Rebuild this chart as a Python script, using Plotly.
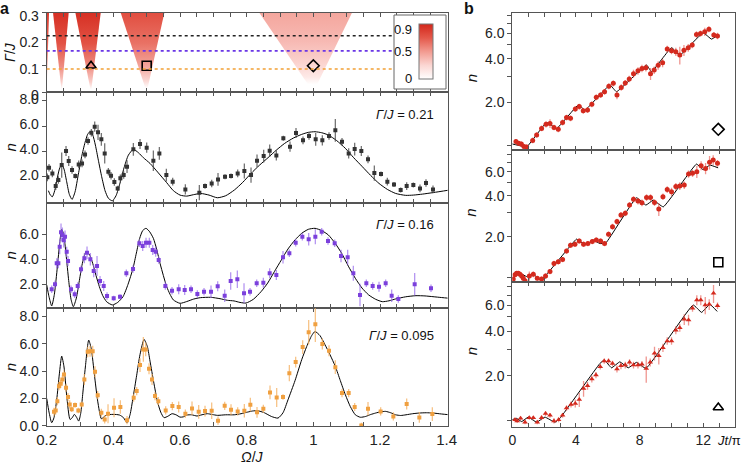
import plotly.graph_objects as go
from plotly.colors import sample_colorscale

# ======================= DATA =======================
# ---- panel a, top: resonance cones in the (Omega/J, Gamma/J) plane ----
cone_apex = [0.200, 0.245, 0.333, 0.500, 1.000]
cone_left = [0.190, 0.219, 0.286, 0.422, 0.838]
cone_right = [0.207, 0.266, 0.362, 0.553, 1.116]
cone_peak = [0.90, 0.95, 0.95, 0.80, 0.45]
cone_onset = [0.05, 0.01, 0.01, 0.015, 0.03]
gamma_lines = [0.213, 0.156, 0.088]
gamma_labels = ['0.21', '0.16', '0.095']
marker_omega = [0.333, 0.5, 1.0]
marker_gamma = [0.1, 0.1, 0.1]
marker_symbols = ['triangle-up-open', 'square-open', 'diamond-open']
cbar_ticks = [0.9, 0.5, 0.0]
cbar_ticktext = ['0.9', '0.5', '0']

# ---- panel a, Gamma/J = 0.21 ----
om2 = [0.202, 0.207, 0.217, 0.227, 0.235, 0.245, 0.258, 0.266, 0.276, 0.286, 0.296, 0.306, 0.315, 0.324,
       0.334, 0.344, 0.354, 0.364, 0.374, 0.385, 0.393, 0.403, 0.413, 0.421, 0.431, 0.441, 0.460, 0.480,
       0.500, 0.520, 0.538, 0.559, 0.578, 0.616, 0.658, 0.675, 0.695, 0.714, 0.735, 0.753, 0.773, 0.793,
       0.813, 0.831, 0.851, 0.869, 0.889, 0.910, 0.930, 0.948, 0.969, 0.987, 1.007, 1.027, 1.047, 1.066,
       1.086, 1.106, 1.124, 1.144, 1.164, 1.183, 1.203, 1.222, 1.242, 1.262, 1.280, 1.300, 1.320, 1.338, 1.359]
n2 = [1.95, 2.71, 2.26, 1.26, 1.74, 2.92, 4.03, 3.24, 2.53, 2.05, 2.97, 3.05, 3.76, 4.82, 5.47, 5.95, 5.5,
      4.95, 3.84, 2.39, 2.08, 1.58, 1.08, 1.87, 2.13, 2.79, 4.16, 4.58, 4.29, 3.26, 3.84, 2.13, 1.61, 1.0,
      0.74, 1.26, 1.47, 1.79, 2.0, 2.05, 2.26, 2.45, 2.13, 3.26, 3.63, 4.05, 3.68, 5.03, 4.37, 5.45, 4.87,
      5.21, 4.95, 4.87, 5.21, 5.66, 4.76, 3.84, 4.18, 4.03, 3.37, 2.29, 2.21, 1.61, 1.39, 0.95, 1.26, 1.34,
      1.08, 1.5, 1.0]
e2 = [0.3, 0.3, 0.3, 0.3, 0.3, 1.0, 0.4, 0.4, 0.3, 0.2, 0.3, 0.3, 0.3, 0.3, 0.3, 0.4, 0.6, 0.5, 0.8, 0.3,
      0.3, 0.3, 0.2, 0.3, 0.3, 0.5, 0.5, 0.4, 0.4, 0.8, 0.5, 0.5, 0.3, 0.4, 0.6, 0.2, 0.3, 0.5, 0.2, 0.2,
      0.3, 0.6, 0.6, 0.5, 0.5, 0.5, 0.4, 0.2, 0.4, 0.4, 0.3, 0.3, 0.5, 0.4, 0.3, 0.9, 0.3, 0.4, 0.5, 0.4,
      0.3, 0.6, 0.2, 0.3, 0.2, 0.2, 0.3, 0.2, 0.3, 0.3, 0.3]
th2_om = [0.205, 0.211, 0.217, 0.224, 0.231, 0.238, 0.245, 0.252, 0.260, 0.268, 0.276, 0.285, 0.295, 0.305,
          0.315, 0.323, 0.330, 0.338, 0.346, 0.355, 0.365, 0.375, 0.385, 0.397, 0.408, 0.420, 0.432, 0.445,
          0.460, 0.475, 0.49, 0.51, 0.535, 0.56, 0.58, 0.60, 0.62, 0.64, 0.662, 0.687, 0.712, 0.737, 0.763,
          0.788, 0.813, 0.838, 0.864, 0.889, 0.914, 0.940, 0.965, 0.985, 1.005, 1.025, 1.045, 1.070, 1.096,
          1.121, 1.147, 1.172, 1.197, 1.222, 1.247, 1.277, 1.300, 1.328, 1.36, 1.409]
th2_n = [0.9, 0.55, 0.42, 0.9, 1.8, 2.6, 2.97, 2.6, 1.6, 0.6, 0.21, 0.8, 2.2, 3.6, 4.7, 5.35, 5.55, 5.3, 4.5,
         3.3, 2.0, 0.9, 0.3, 0.1, 0.5, 1.5, 2.7, 3.7, 4.16, 3.9, 3.5, 3.05, 2.3, 1.53, 0.9, 0.55, 0.47, 0.58,
         0.68, 0.55, 0.34, 0.5, 0.95, 1.55, 2.26, 2.9, 3.5, 4.1, 4.63, 5.05, 5.34, 5.5, 5.55, 5.47, 5.29, 4.85,
         4.24, 3.5, 2.79, 2.1, 1.47, 1.0, 0.68, 0.53, 0.55, 0.63, 0.75, 0.95]

# ---- panel a, Gamma/J = 0.16 ----
om3 = [0.215, 0.225, 0.230, 0.235, 0.239, 0.243, 0.247, 0.251, 0.255, 0.260, 0.264, 0.273, 0.284, 0.293,
       0.303, 0.313, 0.321, 0.331, 0.341, 0.351, 0.360, 0.371, 0.381, 0.401, 0.420, 0.439, 0.459, 0.478,
       0.488, 0.498, 0.508, 0.518, 0.527, 0.536, 0.556, 0.576, 0.596, 0.614, 0.633, 0.652, 0.672, 0.693,
       0.713, 0.734, 0.752, 0.772, 0.792, 0.810, 0.830, 0.850, 0.869, 0.889, 0.909, 0.928, 0.947, 0.967,
       0.986, 1.006, 1.025, 1.044, 1.064, 1.083, 1.103, 1.120, 1.140, 1.159, 1.178, 1.197, 1.217, 1.235,
       1.255, 1.304, 1.353]
n3 = [1.6, 2.0, 3.68, 3.68, 5.01, 6.16, 5.95, 5.55, 5.81, 4.61, 3.87, 1.6, 1.2, 1.87, 3.2, 4.08, 4.53, 4.0,
      3.07, 3.47, 2.27, 1.87, 1.07, 0.88, 1.01, 2.88, 3.23, 5.28, 5.07, 5.33, 5.33, 4.75, 4.61, 3.95, 1.87,
      1.49, 1.6, 1.55, 1.6, 1.23, 1.41, 1.41, 1.84, 1.09, 2.27, 2.4, 1.28, 1.41, 2.08, 2.13, 2.88, 2.75,
      4.16, 4.48, 5.33, 5.81, 5.6, 5.81, 6.21, 5.47, 5.28, 4.27, 4.16, 2.88, 1.15, 2.08, 1.87, 1.81, 2.08,
      1.09, 0.83, 2.0, 1.68]
e3 = [0.3, 0.3, 0.4, 0.4, 0.6, 0.7, 0.6, 0.6, 0.5, 0.4, 0.4, 0.3, 0.3, 0.3, 0.3, 0.4, 0.5, 0.5, 0.5, 0.8,
      0.4, 0.4, 0.3, 0.2, 0.2, 0.3, 0.3, 0.3, 0.4, 0.4, 0.4, 0.4, 0.4, 0.3, 0.3, 0.3, 0.4, 0.4, 0.3, 0.3,
      0.3, 0.5, 0.4, 0.5, 0.7, 0.7, 0.8, 0.3, 0.3, 0.4, 0.4, 0.4, 0.5, 0.3, 0.3, 0.3, 0.5, 0.6, 0.3, 0.3,
      0.3, 0.5, 0.6, 0.6, 0.9, 0.3, 0.3, 0.4, 0.3, 0.5, 0.3, 0.9, 0.3]
th3_om = [0.2, 0.207, 0.215, 0.223, 0.232, 0.239, 0.245, 0.251, 0.258, 0.266, 0.273, 0.280, 0.289, 0.298,
          0.308, 0.318, 0.328, 0.338, 0.348, 0.358, 0.368, 0.380, 0.397, 0.413, 0.429, 0.444, 0.459, 0.469,
          0.479, 0.488, 0.498, 0.509, 0.52, 0.53, 0.54, 0.55, 0.56, 0.57, 0.58, 0.6, 0.62, 0.641, 0.661,
          0.692, 0.72, 0.742, 0.762, 0.78, 0.798, 0.82, 0.843, 0.863, 0.883, 0.904, 0.924, 0.945, 0.965,
          0.985, 1.005, 1.025, 1.045, 1.065, 1.085, 1.105, 1.126, 1.146, 1.166, 1.187, 1.207, 1.227, 1.247,
          1.277, 1.308, 1.335, 1.359, 1.385, 1.409]
th3_n = [1.95, 1.0, 0.27, 1.2, 3.41, 5.3, 6.4, 6.0, 4.4, 2.3, 0.8, 0.21, 0.9, 2.3, 3.8, 4.61, 4.4, 3.68, 2.7,
         1.81, 1.1, 0.6, 0.35, 0.55, 1.01, 2.0, 3.28, 4.5, 5.68, 6.3, 6.48, 6.2, 5.68, 4.8, 3.68, 2.7, 1.81,
         1.2, 0.75, 0.48, 0.62, 0.82, 0.93, 0.96, 0.85, 0.72, 0.67, 0.55, 0.5, 0.8, 1.41, 2.1, 3.01, 3.95,
         4.83, 5.55, 6.08, 6.4, 6.48, 6.3, 5.95, 5.3, 4.48, 3.45, 2.48, 1.7, 1.15, 0.8, 0.61, 0.68, 0.83,
         1.0, 1.09, 1.07, 1.01, 0.94, 0.88]

# ---- panel a, Gamma/J = 0.095 ----
om4 = [0.222, 0.227, 0.232, 0.237, 0.242, 0.247, 0.252, 0.258, 0.264, 0.269, 0.275, 0.285, 0.295, 0.305,
       0.313, 0.323, 0.330, 0.338, 0.345, 0.353, 0.364, 0.374, 0.384, 0.402, 0.421, 0.441, 0.461, 0.470,
       0.480, 0.490, 0.497, 0.507, 0.516, 0.525, 0.535, 0.557, 0.577, 0.596, 0.616, 0.636, 0.656, 0.675,
       0.695, 0.714, 0.734, 0.753, 0.773, 0.793, 0.811, 0.831, 0.850, 0.870, 0.890, 0.909, 0.928, 0.947,
       0.968, 0.986, 1.006, 1.027, 1.047, 1.066, 1.086, 1.106, 1.124, 1.144, 1.164, 1.202, 1.240, 1.280,
       1.318, 1.357]
n4 = [1.02, 1.12, 1.8, 2.9, 3.07, 3.39, 3.76, 2.78, 2.1, 1.56, 1.2, 1.51, 1.12, 1.56, 3.39, 5.41, 5.46, 5.46,
      3.95, 2.24, 0.95, 0.46, 0.88, 1.32, 1.37, 0.41, 2.05, 2.54, 4.44, 5.59, 5.59, 4.17, 3.39, 2.17, 1.8,
      1.12, 1.44, 1.37, 0.88, 1.27, 1.02, 1.07, 1.1, 0.37, 1.46, 1.17, 1.05, 1.1, 1.54, 0.98, 1.24, 2.44,
      2.07, 2.1, 3.85, 4.66, 5.76, 6.85, 7.44, 5.98, 5.49, 4.29, 2.39, 2.39, 1.37, 0.02, 1.24, 1.05, 0.68,
      1.59, 0.61, 0.85]
e4 = [0.3, 0.3, 0.3, 0.3, 0.3, 0.3, 0.3, 0.3, 0.3, 0.3, 0.2, 0.2, 0.2, 0.2, 0.4, 0.4, 0.4, 0.4, 0.4, 0.3,
      0.3, 0.3, 0.7, 0.7, 0.5, 0.3, 0.3, 0.3, 0.5, 0.9, 0.5, 0.4, 0.4, 0.3, 0.3, 0.3, 0.3, 0.4, 0.3, 0.5,
      0.5, 0.4, 0.6, 0.3, 0.3, 0.4, 0.3, 0.5, 0.5, 0.4, 0.3, 0.5, 0.7, 0.2, 0.6, 0.4, 0.5, 0.9, 1.3, 0.4,
      0.4, 0.5, 0.3, 0.3, 0.3, 0.2, 0.5, 0.3, 0.3, 0.4, 0.4, 0.5]
th4_om = [0.2, 0.207, 0.215, 0.222, 0.23, 0.238, 0.245, 0.252, 0.26, 0.27, 0.277, 0.283, 0.29, 0.296, 0.302,
          0.308, 0.316, 0.326, 0.334, 0.343, 0.353, 0.364, 0.372, 0.379, 0.389, 0.399, 0.409, 0.419, 0.43,
          0.441, 0.45, 0.459, 0.47, 0.48, 0.492, 0.502, 0.51, 0.521, 0.532, 0.542, 0.552, 0.564, 0.576,
          0.588, 0.6, 0.61, 0.62, 0.635, 0.651, 0.662, 0.682, 0.697, 0.712, 0.737, 0.763, 0.783, 0.803,
          0.818, 0.833, 0.853, 0.874, 0.894, 0.909, 0.924, 0.945, 0.965, 0.98, 0.995, 1.005, 1.02, 1.035,
          1.05, 1.066, 1.081, 1.096, 1.111, 1.126, 1.141, 1.157, 1.172, 1.187, 1.202, 1.217, 1.232, 1.247,
          1.262, 1.278, 1.298, 1.318, 1.339, 1.359, 1.384, 1.409]
th4_n = [2.0, 1.0, 0.22, 0.6, 1.9, 3.8, 5.1, 4.3, 2.2, 0.46, 0.6, 0.83, 0.6, 0.34, 0.9, 2.29, 4.3, 6.27, 5.6,
         3.76, 1.8, 0.51, 0.65, 0.78, 0.82, 0.83, 0.82, 0.78, 0.6, 0.22, 0.8, 2.05, 3.7, 5.22, 6.32, 5.8,
         4.73, 3.2, 1.8, 1.0, 0.59, 0.7, 0.88, 0.8, 0.63, 0.65, 0.78, 0.8, 0.71, 0.78, 0.88, 0.82, 0.76, 0.8,
         0.8, 0.88, 1.0, 1.08, 1.1, 0.95, 0.68, 0.56, 0.95, 1.9, 3.3, 4.83, 5.8, 6.6, 6.9, 6.6, 5.93, 5.2,
         4.34, 3.3, 2.27, 1.4, 0.8, 0.62, 0.68, 0.82, 0.93, 1.02, 1.05, 0.95, 0.8, 0.75, 0.8, 0.88, 0.93,
         0.95, 0.93, 0.86, 0.8]

# ---- panel b (Jt/pi vs n, log scale) ----
tb1 = [0.23, 0.4, 0.57, 0.73, 0.9, 1.28, 1.53, 1.84, 2.12, 2.37, 2.62, 2.89, 3.16, 3.41, 3.66, 3.96, 4.21,
       4.46, 4.73, 5.0, 5.28, 5.55, 5.8, 6.07, 6.35, 6.58, 6.85, 7.1, 7.35, 7.62, 7.9, 8.15, 8.4, 8.69, 8.92,
       9.17, 9.45, 9.74, 10.01, 10.28, 10.53, 10.79, 11.06, 11.31, 11.58, 11.83, 12.1, 12.36, 12.67, 12.9]
nb1 = [1.07, 1.04, 1.03, 0.99, 0.98, 1.09, 1.19, 1.32, 1.41, 1.43, 1.34, 1.30, 1.45, 1.57, 1.55, 1.80, 1.87,
       1.75, 1.77, 1.94, 2.17, 2.25, 2.37, 2.59, 2.71, 2.25, 2.54, 2.73, 2.91, 3.16, 3.31, 3.44, 3.47, 3.16,
       3.35, 3.61, 3.76, 4.69, 4.56, 4.49, 4.26, 4.60, 4.78, 4.99, 5.92, 6.01, 6.18, 6.43, 5.86, 5.78]
eb1 = [0.04, 0.04, 0.04, 0.04, 0.04, 0.05, 0.05, 0.06, 0.07, 0.1, 0.06, 0.06, 0.07, 0.07, 0.07, 0.08, 0.09,
       0.08, 0.08, 0.09, 0.1, 0.1, 0.11, 0.12, 0.13, 0.15, 0.13, 0.13, 0.15, 0.2, 0.2, 0.2, 0.2, 0.3, 0.2,
       0.25, 0.25, 0.25, 0.25, 0.3, 0.6, 0.4, 0.3, 0.25, 0.3, 0.3, 0.4, 0.3, 0.3, 0.3]
tb2 = [0.06, 0.17, 0.27, 0.38, 0.48, 0.59, 0.69, 0.8, 1.07, 1.32, 1.57, 1.84, 2.09, 2.37, 2.62, 2.89, 3.16,
       3.41, 3.66, 3.94, 4.21, 4.48, 4.75, 5.03, 5.28, 5.55, 5.8, 6.05, 6.3, 6.58, 6.83, 7.1, 7.37, 7.62, 7.9,
       8.15, 8.44, 8.69, 8.94, 9.21, 9.47, 9.74, 10.01, 10.28, 10.53, 10.81, 11.08, 11.33, 11.6, 11.87, 12.15,
       12.4, 12.63, 12.9]
nb2 = [0.98, 1.05, 1.08, 1.08, 1.06, 1.03, 0.99, 0.95, 1.03, 1.06, 0.99, 0.98, 1.03, 1.11, 1.27, 1.31, 1.36,
       1.57, 1.73, 1.76, 1.86, 1.76, 1.78, 1.84, 1.89, 1.86, 1.78, 2.08, 2.37, 2.58, 2.88, 2.97, 3.41, 3.76,
       3.65, 3.55, 3.87, 3.88, 3.56, 3.19, 3.93, 4.44, 4.27, 4.66, 4.71, 4.78, 5.76, 5.83, 6.0, 6.64, 6.34,
       7.03, 7.3, 6.92]
eb2 = [0.03, 0.03, 0.03, 0.03, 0.03, 0.03, 0.03, 0.03, 0.08, 0.05, 0.04, 0.04, 0.05, 0.05, 0.06, 0.06, 0.06,
       0.07, 0.08, 0.08, 0.08, 0.08, 0.08, 0.08, 0.08, 0.08, 0.08, 0.1, 0.12, 0.13, 0.15, 0.15, 0.18, 0.2,
       0.2, 0.2, 0.22, 0.22, 0.2, 0.35, 0.22, 0.25, 0.3, 0.3, 0.3, 0.3, 0.35, 0.35, 0.6, 0.5, 0.6, 0.8, 0.6,
       0.4]
tb3 = [0.17, 0.31, 0.52, 0.8, 1.07, 1.32, 1.57, 1.84, 2.09, 2.37, 2.62, 2.91, 3.16, 3.41, 3.69, 3.96, 4.21,
       4.48, 4.73, 5.0, 5.26, 5.53, 5.78, 6.05, 6.3, 6.58, 6.83, 7.1, 7.37, 7.62, 7.9, 8.15, 8.42, 8.67, 8.94,
       9.21, 9.47, 9.74, 10.01, 10.28, 10.53, 10.81, 11.08, 11.33, 11.6, 11.85, 12.13, 12.38, 12.65, 12.9]
nb3 = [1.01, 0.99, 1.03, 0.97, 1.04, 1.04, 0.97, 1.04, 1.11, 1.08, 0.99, 1.01, 1.08, 1.21, 1.28, 1.30, 1.38,
       1.64, 1.71, 1.90, 2.02, 2.30, 2.51, 2.51, 2.42, 2.22, 2.33, 2.36, 2.46, 2.36, 2.36, 2.39, 2.24, 2.46,
       2.83, 2.73, 3.09, 3.43, 3.43, 4.06, 4.21, 4.8, 4.76, 5.7, 6.48, 6.48, 6.0, 6.06, 7.2, 5.94]
eb3 = [0.03, 0.03, 0.03, 0.03, 0.03, 0.03, 0.03, 0.04, 0.04, 0.04, 0.04, 0.04, 0.04, 0.05, 0.06, 0.08, 0.15,
       0.2, 0.1, 0.1, 0.1, 0.1, 0.1, 0.1, 0.1, 0.12, 0.12, 0.12, 0.12, 0.12, 0.12, 0.12, 0.45, 0.15, 0.3,
       0.35, 0.2, 0.2, 0.2, 0.25, 0.25, 0.4, 0.4, 0.3, 0.5, 0.5, 0.8, 0.5, 1.0, 0.3]
thb1_t = [0, 0.5, 0.9, 2.16, 2.79, 4.15, 4.57, 6.14, 6.55, 8.44, 8.75, 10.01, 10.53, 12.0, 12.52, 12.94]
thb1_n = [1.03, 1.0, 0.98, 1.45, 1.32, 1.92, 1.77, 2.64, 2.37, 3.63, 3.26, 4.79, 4.25, 6.08, 5.49, 5.86]
thb2_t = [0, 0.48, 0.9, 1.32, 1.8, 4.04, 4.25, 4.67, 5.09, 5.51, 5.88, 7.81, 8.4, 8.86, 9.49, 11.58, 12.0,
          12.42, 12.94]
thb2_n = [0.99, 1.08, 1.02, 1.06, 0.96, 1.92, 1.84, 1.76, 1.89, 1.78, 1.8, 3.86, 3.41, 3.71, 3.31, 6.82, 6.2,
          6.7, 6.4]
thb3_t = [0, 0.27, 0.59, 1.0, 1.53, 2.05, 2.68, 2.99, 5.51, 5.78, 6.24, 6.76, 7.29, 7.81, 8.4, 11.37, 11.9,
          12.42, 12.88]
thb3_n = [1.01, 1.03, 0.98, 1.05, 0.97, 1.05, 0.97, 1.03, 2.42, 2.55, 2.26, 2.48, 2.26, 2.46, 2.24, 6.0, 5.35,
          6.06, 5.43]
b_symbol_t = [12.95, 12.95, 12.95]
b_symbol_n = [1.30, 1.30, 1.22]
b_symbols = ['diamond-open', 'square-open', 'triangle-up-open']

# ======================= STYLE / LAYOUT =======================
W, H = 741, 467
FONT = 'Liberation Sans, Arial, sans-serif'
AXC = '#555555'
HEAT_SCALE = [[0.0, '#ffffff'], [0.25, '#fbd6d2'], [0.5, '#f29a90'], [0.75, '#e4584a'], [1.0, '#d3261a']]
LINE_COLORS = ['#222222', '#6a36e6', '#f2a035']
PT_COLORS = ['#333333', '#7b40dc', '#f0a040']
ERR_COLORS = ['rgba(70,70,70,0.75)', 'rgba(150,105,235,0.7)', 'rgba(244,175,95,0.75)']
RED = '#d42a1e'
RED_ERR = 'rgba(228,80,70,0.6)'
# gradient profile along Gamma inside a cone: (position above onset, fraction of peak intensity)
GRAD_POS = [0.0, 0.1, 0.3, 0.6, 1.0]
GRAD_FRAC = [0.0, 0.3, 0.58, 0.82, 1.0]


def px2x(p):
    return p / W


def px2y(p):
    return 1 - p / H


# panel geometry (pixels)
A_X = (46.7, 447.5)
A_ROWS = [(12.7, 92.3), (92.3, 202.7), (202.7, 308.3), (308.3, 426.0)]
B_X = (512.3, 735.0)
B_ROWS = [(12.7, 150.0), (150.0, 281.7), (281.7, 426.7)]

fig = go.Figure()

# ---- resonance cones ----
for c, l, r, pk, on in zip(cone_apex, cone_left, cone_right, cone_peak, cone_onset):
    cols = sample_colorscale(HEAT_SCALE, [pk * f for f in GRAD_FRAC])
    o = on / 0.3
    grad = [[0.0, '#ffffff']] + [[o + (1 - o) * p, col] for p, col in zip(GRAD_POS, cols)]
    fig.add_trace(go.Scatter(x=[l, c, r, l], y=[0.3, 0.0, 0.3, 0.3], mode='lines', fill='toself',
                             line=dict(width=0), fillgradient=dict(type='vertical', colorscale=grad,
                                                                   start=0.0, stop=0.3),
                             xaxis='x', yaxis='y', hoverinfo='skip', showlegend=False))

# dashed horizontal lines
for g, col in zip(gamma_lines, LINE_COLORS):
    fig.add_shape(type='line', xref='x domain', yref='y', x0=0, x1=1, y0=g, y1=g,
                  line=dict(color=col, width=1.6, dash='3px,3px'))

fig.add_trace(go.Scatter(x=marker_omega, y=marker_gamma, mode='markers', xaxis='x', yaxis='y',
                         marker=dict(symbol=marker_symbols, size=9, color='black', line=dict(width=1.6)),
                         showlegend=False, hoverinfo='skip'))

# colour bar (inset)
CB_X0, CB_THICK, CB_TOP, CB_BOT = 419, 14, 24, 79
fig.add_trace(go.Scatter(x=[None], y=[None], mode='markers', xaxis='x', yaxis='y', showlegend=False,
                         marker=dict(color=[0], colorscale=HEAT_SCALE, cmin=0, cmax=1, showscale=True,
                                     colorbar=dict(x=px2x(CB_X0), xanchor='left', xpad=0, ypad=0,
                                                   y=px2y((CB_TOP + CB_BOT) / 2), yanchor='middle',
                                                   lenmode='pixels', len=CB_BOT - CB_TOP,
                                                   thickness=CB_THICK, outlinewidth=1, outlinecolor='#777',
                                                   showticklabels=False, ticks=''))))
fig.add_shape(type='rect', xref='paper', yref='paper', x0=px2x(394), x1=px2x(446), y0=px2y(89), y1=px2y(15),
              line=dict(color='#666', width=1), fillcolor='white', layer='above')

# ---- panel a data ----
series_a = [(om2, n2, e2, th2_om, th2_n), (om3, n3, e3, th3_om, th3_n), (om4, n4, e4, th4_om, th4_n)]
for i, (om, nn, ee, tom, tn) in enumerate(series_a):
    ax = str(i + 2)
    fig.add_trace(go.Scatter(x=tom, y=tn, mode='lines', line=dict(color='black', width=1, shape='spline',
                                                                  smoothing=0.6),
                             xaxis='x' + ax, yaxis='y' + ax, showlegend=False, hoverinfo='skip'))
    fig.add_trace(go.Scatter(x=om, y=nn, mode='markers', xaxis='x' + ax, yaxis='y' + ax, showlegend=False,
                             marker=dict(symbol='square', size=4, color=PT_COLORS[i]),
                             error_y=dict(type='data', array=ee, color=ERR_COLORS[i], thickness=1.3, width=0)))

# ---- panel b data ----
series_b = [(tb1, nb1, eb1, thb1_t, thb1_n, 'circle'), (tb2, nb2, eb2, thb2_t, thb2_n, 'circle'),
            (tb3, nb3, eb3, thb3_t, thb3_n, 'triangle-up')]
for i, (tt, nn, ee, ttt, ttn, sym) in enumerate(series_b):
    ax = str(i + 5)
    fig.add_trace(go.Scatter(x=ttt, y=ttn, mode='lines', line=dict(color='black', width=1, shape='spline',
                                                                   smoothing=0.3),
                             xaxis='x' + ax, yaxis='y' + ax, showlegend=False, hoverinfo='skip'))
    fig.add_trace(go.Scatter(x=tt, y=nn, mode='markers', xaxis='x' + ax, yaxis='y' + ax, showlegend=False,
                             marker=dict(symbol=sym, size=5, color=RED),
                             error_y=dict(type='data', array=ee, color=RED_ERR, thickness=1.3, width=0)))
    fig.add_trace(go.Scatter(x=[b_symbol_t[i]], y=[b_symbol_n[i]], mode='markers', xaxis='x' + ax,
                             yaxis='y' + ax, showlegend=False, hoverinfo='skip',
                             marker=dict(symbol=b_symbols[i], size=9, color='black', line=dict(width=1.6))))


# ---- axes ----
def x_axis(dom, rng, anchor, tickvals, ticktext, minor, show, size=15):
    return dict(domain=[px2x(dom[0]), px2x(dom[1])], range=rng, anchor=anchor, showgrid=False, zeroline=False,
                automargin=False, showline=True, linecolor=AXC, linewidth=1, mirror='ticks', ticks='inside',
                ticklen=4, tickcolor=AXC, tickmode='array', tickvals=tickvals, ticktext=ticktext,
                showticklabels=show,
                minor=dict(dtick=minor, ticks='inside', ticklen=4, tickcolor=AXC, showgrid=False),
                tickfont=dict(family=FONT, size=size, color='#222'))


def y_axis(row, rng, anchor, tickvals, ticktext, typ='linear', size=14, shift=0):
    return dict(domain=[px2y(row[1]), px2y(row[0])], range=rng, anchor=anchor, type=typ, showgrid=False,
                automargin=False, zeroline=False, showline=True, linecolor=AXC, linewidth=1, mirror=True,
                ticks='outside', ticklen=4, tickcolor=AXC, tickmode='array', tickvals=tickvals,
                ticktext=ticktext, ticklabelshift=shift, tickfont=dict(family=FONT, size=size, color='#222'))


a_xt = [0.2, 0.4, 0.6, 0.8, 1.0, 1.2, 1.4]
a_xl = ['0.2', '0.4', '0.6', '0.8', '1', '1.2', '1.4']
A_RANGE = [0.2, 1.4025]
b_xt = [0, 4, 8, 12]
b_xl = ['0', '4', '8', '12']
b_yt = [1, 2, 3, 4, 5, 6, 7, 8]
b_yl = ['', '2.0', '', '4.0', '', '6.0', '', '']

layout_axes = dict(
    xaxis=x_axis(A_X, A_RANGE, 'y', a_xt, a_xl, 0.05, False),
    yaxis=y_axis(A_ROWS[0], [0, 0.3], 'x', [0, 0.1, 0.2, 0.3], ['0', '0.1', '0.2', '0.3'], shift=3),
    xaxis2=x_axis(A_X, A_RANGE, 'y2', a_xt, a_xl, 0.05, False),
    yaxis2=y_axis(A_ROWS[1], [-0.05, 8.66], 'x2', [2, 4, 6, 8], ['2.0', '4.0', '6.0', '8.0'], shift=-2),
    xaxis3=x_axis(A_X, A_RANGE, 'y3', a_xt, a_xl, 0.05, False),
    yaxis3=y_axis(A_ROWS[2], [0.08, 8.53], 'x3', [2, 4, 6], ['2.0', '4.0', '6.0']),
    xaxis4=x_axis(A_X, A_RANGE, 'y4', a_xt, a_xl, 0.05, True),
    yaxis4=y_axis(A_ROWS[3], [-0.02, 8.6], 'x4', [0, 2, 4, 6, 8], ['0.0', '2.0', '4.0', '6.0', '8.0']),
    xaxis5=x_axis(B_X, [0, 14], 'y5', b_xt, b_xl, 1, False),
    yaxis5=y_axis(B_ROWS[0], [-0.0292, 0.9227], 'x5', b_yt, b_yl, 'log'),
    xaxis6=x_axis(B_X, [0, 14], 'y6', b_xt, b_xl, 1, False),
    yaxis6=y_axis(B_ROWS[1], [-0.0292, 0.937], 'x6', b_yt, b_yl, 'log'),
    xaxis7=x_axis(B_X, [0, 14], 'y7', b_xt, b_xl, 1, True, 14),
    yaxis7=y_axis(B_ROWS[2], [-0.0434, 0.9355], 'x7', b_yt, b_yl, 'log'),
)

# ---- annotations ----
ann = []


def text(xp, yp, s, size=14, xanchor='center', angle=0, bold=False):
    ann.append(dict(x=px2x(xp), y=px2y(yp), xref='paper', yref='paper', text=('<b>%s</b>' % s) if bold else s,
                    showarrow=False, xanchor=xanchor, yanchor='middle', textangle=angle,
                    font=dict(family=FONT, size=size, color='#111')))


text(4, 8, 'a', 16, bold=True)
text(469, 8, 'b', 16, bold=True)
text(10, 52, '<i>Γ</i>/<i>J</i>', 14, angle=-90)
for r in A_ROWS[1:]:
    text(10, (r[0] + r[1]) / 2, '<i>n</i>', 15, angle=-90)
for r in B_ROWS:
    text(471, (r[0] + r[1]) / 2 - 3, '<i>n</i>', 15, angle=-90)
text(252, 457, '<i>Ω</i>/<i>J</i>', 14)
text(715, 440, '<i>Jt</i>/π', 13, xanchor='left')
label_y = [114, 224, 335]
for g, yp in zip(gamma_labels, label_y):
    text(436, yp, '<i>Γ</i>/<i>J</i> = ' + g, 13, xanchor='right')
for v, s in zip(cbar_ticks, cbar_ticktext):
    text(414, CB_BOT - v * (CB_BOT - CB_TOP), s, 13, xanchor='right')

fig.update_layout(width=W, height=H, autosize=False, margin=dict(l=0, r=0, t=0, b=0),
                  paper_bgcolor='white', plot_bgcolor='white', showlegend=False,
                  font=dict(family=FONT, color='#222'), annotations=ann, **layout_axes)

# remove the browser's default page margin so the figure sits at the window's top-left corner
fig.write_html('out.html', config={'displayModeBar': False},
               post_script="document.body.style.margin='0';document.body.style.overflow='hidden';")
